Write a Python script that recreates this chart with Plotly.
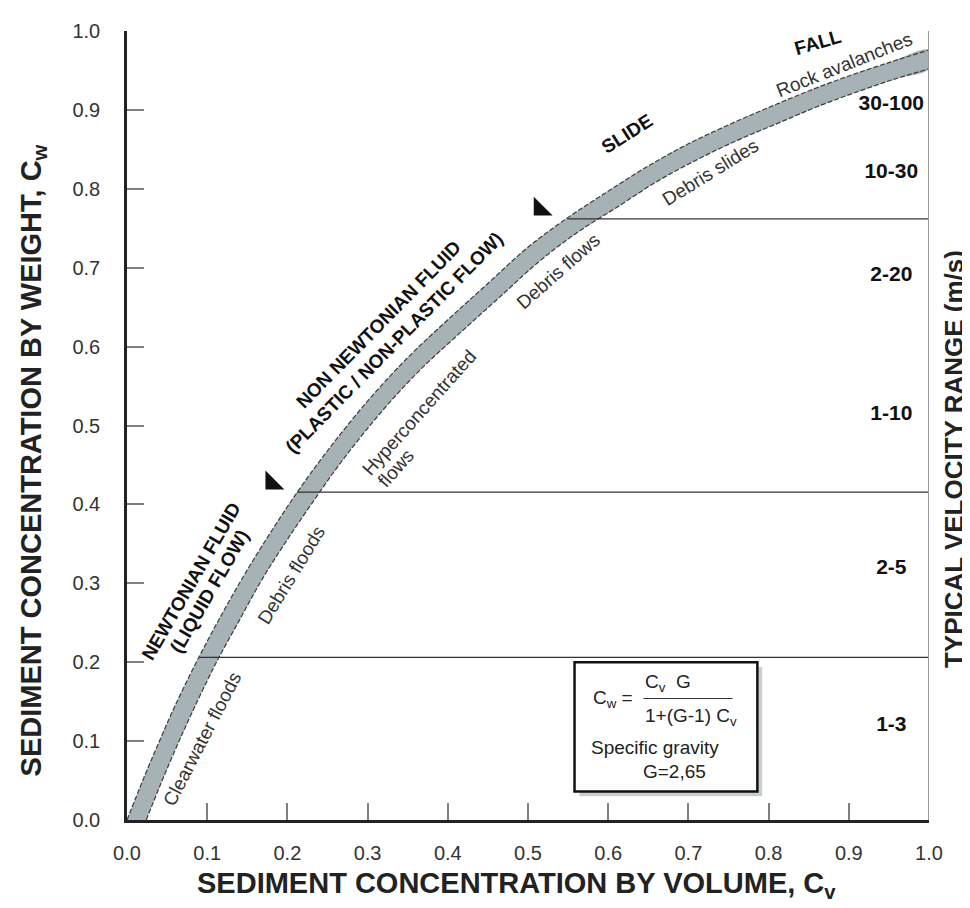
import plotly.graph_objects as go

# ---------------- data ----------------
# upper / lower edges of the grey band (Cv, Cw)
band_upper_x = [0.0, 0.02, 0.04, 0.06, 0.09, 0.12, 0.15, 0.18, 0.212, 0.25, 0.30, 0.35, 0.40,
                0.45, 0.50, 0.549, 0.60, 0.65, 0.70, 0.75, 0.80, 0.85, 0.90, 0.95, 1.0]
band_upper_y = [0.0, 0.051, 0.099, 0.145, 0.207, 0.264, 0.317, 0.366, 0.415, 0.468, 0.531, 0.586, 0.634,
                0.680, 0.726, 0.763, 0.797, 0.829, 0.857, 0.881, 0.903, 0.924, 0.943, 0.960, 0.976]
band_lower_x = [0.024, 0.041, 0.061, 0.081, 0.110, 0.140, 0.169, 0.199, 0.231, 0.268, 0.317, 0.366, 0.416,
                0.465, 0.514, 0.562, 0.613, 0.662, 0.711, 0.760, 0.809, 0.858, 0.908, 0.957, 1.0]
band_lower_y = [0.0, 0.043, 0.091, 0.136, 0.197, 0.253, 0.306, 0.354, 0.402, 0.455, 0.517, 0.571, 0.618,
                0.663, 0.708, 0.745, 0.778, 0.810, 0.837, 0.861, 0.882, 0.903, 0.922, 0.939, 0.952]

# horizontal separators of velocity ranges
sep_y = [0.206, 0.4156, 0.762]
sep_x_start = [0.09, 0.212, 0.549]
sep_x_end = [1.0, 1.0, 1.0]

# typical velocity ranges (m/s)
vel_labels = ["1-3", "2-5", "1-10", "2-20", "10-30", "30-100"]
vel_y = [0.119, 0.319, 0.514, 0.690, 0.820, 0.907]
vel_x = [0.953] * 6

# boundary triangles
tri_x = [0.1805, 0.515]
tri_y = [0.427, 0.774]

# axis ticks
tick_vals = [0.0, 0.1, 0.2, 0.3, 0.4, 0.5, 0.6, 0.7, 0.8, 0.9, 1.0]
tick_text = ["0.0", "0.1", "0.2", "0.3", "0.4", "0.5", "0.6", "0.7", "0.8", "0.9", "1.0"]

# flow-type labels along the band: text, x, y, angle
flow_labels = ["Clearwater floods", "Debris floods", "Hyperconcentrated", "flows",
               "Debris flows", "Debris slides", "Rock avalanches"]
flow_x = [0.093, 0.2045, 0.3645, 0.3346, 0.5375, 0.727, 0.895]
flow_y = [0.1026, 0.310, 0.5163, 0.4461, 0.6947, 0.821, 0.957]
flow_ang = [-62.6, -58.5, -48.3, -48.3, -41.3, -31.7, -21.8]

# regime labels (bold)
reg_labels = ["NEWTONIAN FLUID", "(LIQUID FLOW)", "NON NEWTONIAN FLUID",
              "(PLASTIC / NON-PLASTIC FLOW)", "SLIDE", "FALL"]
reg_x = [0.0796, 0.1026, 0.3137, 0.3336, 0.624, 0.861]
reg_y = [0.3027, 0.2901, 0.6277, 0.6048, 0.870, 0.986]
reg_ang = [-60.0, -60.0, -45.5, -45.5, -32.4, -16.0]

FONT = "Arial, Liberation Sans, Helvetica, sans-serif"

fig = go.Figure()

# grey band (polygon)
fig.add_trace(go.Scatter(
    x=band_upper_x + band_lower_x[::-1],
    y=band_upper_y + band_lower_y[::-1],
    mode="lines", fill="toself", fillcolor="#a6b2b6",
    line=dict(width=0, shape="spline"), hoverinfo="skip", showlegend=False))
for bx, by in [(band_upper_x, band_upper_y), (band_lower_x, band_lower_y)]:
    fig.add_trace(go.Scatter(x=bx, y=by, mode="lines",
                             line=dict(color="#3c3c3c", width=1.2, dash="5px,2px", shape="spline"),
                             hoverinfo="skip", showlegend=False))

# separators
for xs, xe, y in zip(sep_x_start, sep_x_end, sep_y):
    fig.add_trace(go.Scatter(x=[xs, xe], y=[y, y], mode="lines",
                             line=dict(color="#333333", width=1.2),
                             hoverinfo="skip", showlegend=False))

# triangles
fig.add_trace(go.Scatter(x=tri_x, y=tri_y, mode="markers",
                         marker=dict(symbol="triangle-sw", size=21, color="#111111",
                                     line=dict(width=0)),
                         hoverinfo="skip", showlegend=False))

# velocity labels
fig.add_trace(go.Scatter(x=vel_x, y=vel_y, mode="text", text=vel_labels,
                         textfont=dict(family=FONT, size=21, color="#111111", weight="bold"),
                         hoverinfo="skip", showlegend=False))

ann = []
for t, x, y, a in zip(flow_labels, flow_x, flow_y, flow_ang):
    ann.append(dict(text=t, x=x, y=y, xref="x", yref="y", showarrow=False, textangle=a,
                    xanchor="center", yanchor="middle",
                    font=dict(family=FONT, size=19, color="#333333")))
for t, x, y, a in zip(reg_labels, reg_x, reg_y, reg_ang):
    ann.append(dict(text="<b>" + t + "</b>", x=x, y=y, xref="x", yref="y", showarrow=False,
                    textangle=a, xanchor="center", yanchor="middle",
                    font=dict(family=FONT, size=19, color="#111111")))

# formula box contents
box_font = dict(family=FONT, size=19, color="#222222")
ann += [
    dict(text="C<sub>w</sub> =", x=0.578, y=0.1537, xref="x", yref="y", showarrow=False,
         xanchor="left", yanchor="middle", font=box_font),
    dict(text="C<sub>v</sub>  G", x=0.644, y=0.1735, xref="x", yref="y", showarrow=False,
         xanchor="left", yanchor="middle", font=box_font),
    dict(text="1+(G-1) C<sub>v</sub>", x=0.644, y=0.131, xref="x", yref="y", showarrow=False,
         xanchor="left", yanchor="middle", font=box_font),
    dict(text="Specific gravity", x=0.576, y=0.0913, xref="x", yref="y", showarrow=False,
         xanchor="left", yanchor="middle", font=box_font),
    dict(text="G=2,65", x=0.641, y=0.062, xref="x", yref="y", showarrow=False,
         xanchor="left", yanchor="middle", font=box_font),
]

# axis titles
title_font = dict(family=FONT, size=29, color="#222222")
ann += [
    dict(text="<b>SEDIMENT CONCENTRATION BY VOLUME, C<sub>v</sub></b>", x=0.486, y=-0.082,
         xref="paper", yref="paper", showarrow=False, xanchor="center", yanchor="middle",
         font=title_font),
    dict(text="<b>SEDIMENT CONCENTRATION BY WEIGHT, C<sub>w</sub></b>", x=-0.117, y=0.456,
         xref="paper", yref="paper", showarrow=False, xanchor="center", yanchor="middle",
         textangle=-90, font=title_font),
    dict(text="<b>TYPICAL VELOCITY RANGE (m/s)</b>", x=1.032, y=0.457,
         xref="paper", yref="paper", showarrow=False, xanchor="center", yanchor="middle",
         textangle=-90, font=dict(family=FONT, size=26, color="#222222")),
]

shapes = [
    # shadow of the formula box
    dict(type="rect", x0=0.564, x1=0.792, y0=0.030, y1=0.194, xref="x", yref="y",
         line=dict(width=0), fillcolor="#c9ced1"),
    dict(type="rect", x0=0.558, x1=0.786, y0=0.036, y1=0.200, xref="x", yref="y",
         line=dict(color="#111111", width=2.5), fillcolor="white"),
    # fraction bar
    dict(type="line", x0=0.644, x1=0.755, y0=0.154, y1=0.154, xref="x", yref="y",
         line=dict(color="#333333", width=1)),
    # right-hand axis line
    dict(type="line", x0=1, x1=1, y0=0, y1=1, xref="x", yref="y",
         line=dict(color="#9a9a9a", width=2)),
]

axis_common = dict(range=[0, 1], tickvals=tick_vals, ticktext=tick_text, ticks="inside",
                   ticklen=17, tickwidth=1.5, tickcolor="#808080", showgrid=False,
                   zeroline=False, showline=True, linecolor="#222222", linewidth=2.5,
                   tickfont=dict(family=FONT, size=20, color="#333333"), fixedrange=True)

# the page body adds an 8px margin, so the figure is sized/offset to compensate
fig.update_layout(
    width=962, height=900,
    margin=dict(l=119, r=41, t=14, b=88),
    paper_bgcolor="white", plot_bgcolor="white",
    xaxis=dict(**axis_common, ticklabelstandoff=13),
    yaxis=dict(**axis_common, ticklabelstandoff=20),
    annotations=ann, shapes=shapes, showlegend=False,
)

fig.write_html("out.html")
